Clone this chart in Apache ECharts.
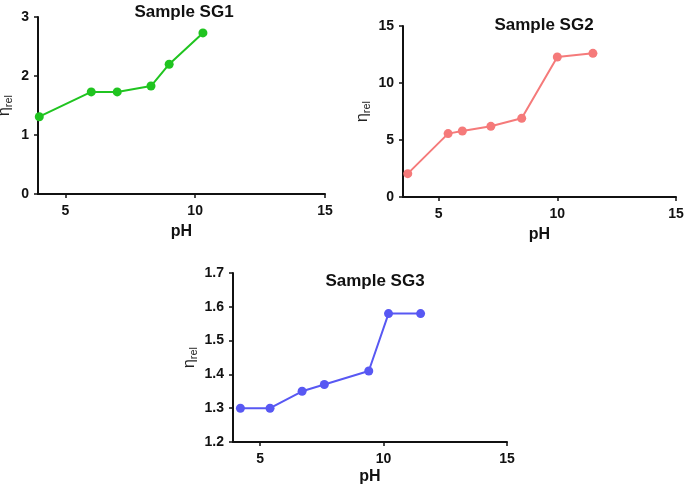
<!DOCTYPE html>
<html>
<head>
<meta charset="utf-8">
<script src="https://cdn.jsdelivr.net/npm/echarts@6/dist/echarts.min.js"></script>
<style>html,body{margin:0;padding:0;background:#fff}#c{width:685px;height:485px}</style>
</head>
<body>
<div id="c"></div>
<script>
const titles = ['Sample SG1', 'Sample SG2', 'Sample SG3'];
const xTicks = [5, 10, 15];
const sg1_pH = [4.0, 6.0, 7.0, 8.3, 9.0, 10.3];
const sg1_eta = [1.31, 1.73, 1.73, 1.83, 2.20, 2.73];
const sg2_pH = [3.7, 5.4, 6.0, 7.2, 8.5, 10.0, 11.5];
const sg2_eta = [2.05, 5.56, 5.79, 6.2, 6.9, 12.28, 12.6];
const sg3_pH = [4.2, 5.4, 6.7, 7.6, 9.4, 10.2, 11.5];
const sg3_eta = [1.30, 1.30, 1.35, 1.37, 1.41, 1.58, 1.58];
const yRanges = [[0, 3, 1], [0, 15, 5], [1.2, 1.7, 0.1]];
const xMins = [3.95, 3.5, 3.9];
const colors = ['#20c420', '#f57a7a', '#5858f3'];

const grids = [
  {left: 38, top: 17, width: 287, height: 177, outerBoundsMode: 'none', containLabel: false},
  {left: 403, top: 26, width: 273, height: 171, outerBoundsMode: 'none', containLabel: false},
  {left: 233, top: 273, width: 274, height: 169, outerBoundsMode: 'none', containLabel: false}
];
const nameGaps = [24, 31, 34];
const xNameGaps = [30, 30, 27];
const font = 'Liberation Sans, Arial, sans-serif';
const pairs = [[sg1_pH, sg1_eta], [sg2_pH, sg2_eta], [sg3_pH, sg3_eta]];

const option = {
  animation: false,
  backgroundColor: '#fff',
  title: [
    {text: titles[0], left: 179, top: -1, textAlign: 'center'},
    {text: titles[1], left: 539, top: 12, textAlign: 'center'},
    {text: titles[2], left: 370, top: 268, textAlign: 'center'}
  ].map(t => Object.assign(t, {textStyle: {fontFamily: font, fontSize: 17, fontWeight: 'bold', color: '#111'}})),
  grid: grids,
  xAxis: grids.map((g, i) => ({
    type: 'value', gridIndex: i, min: xMins[i], max: 15,
    name: 'pH', nameLocation: 'middle', nameGap: xNameGaps[i],
    nameTextStyle: {fontFamily: font, fontSize: 16, fontWeight: 'bold', color: '#111'},
    axisLine: {show: true, lineStyle: {color: '#111', width: 2}},
    axisTick: {show: true, customValues: xTicks, length: 4, lineStyle: {color: '#111', width: 1.5}},
    axisLabel: {customValues: xTicks, fontFamily: font, fontSize: 14, fontWeight: 'bold', color: '#111', margin: 10},
    splitLine: {show: false}
  })),
  yAxis: grids.map((g, i) => ({
    type: 'value', gridIndex: i, min: yRanges[i][0], max: yRanges[i][1], interval: yRanges[i][2],
    name: '{a|η}{b|rel}', nameLocation: 'middle', nameGap: nameGaps[i],
    nameTextStyle: {rich: {a: {fontFamily: font, fontSize: 16, color: '#222'}, b: {fontFamily: font, fontSize: 11, color: '#222', padding: [7, 0, 0, 0]}}},
    axisLine: {show: true, lineStyle: {color: '#111', width: 2}},
    axisTick: {show: true, length: 4, lineStyle: {color: '#111', width: 1.5}},
    axisLabel: {fontFamily: font, fontSize: 14, fontWeight: 'bold', color: '#111', margin: 9,
      formatter: v => i === 2 ? v.toFixed(1) : String(v)},
    splitLine: {show: false}
  })),
  series: pairs.map((p, i) => ({
    type: 'line', xAxisIndex: i, yAxisIndex: i,
    data: p[0].map((x, k) => [x, p[1][k]]),
    symbol: 'circle', symbolSize: 9,
    itemStyle: {color: colors[i]},
    lineStyle: {color: colors[i], width: 2},
    clip: false
  }))
};
echarts.init(document.getElementById('c')).setOption(option);
</script>
</body>
</html>
